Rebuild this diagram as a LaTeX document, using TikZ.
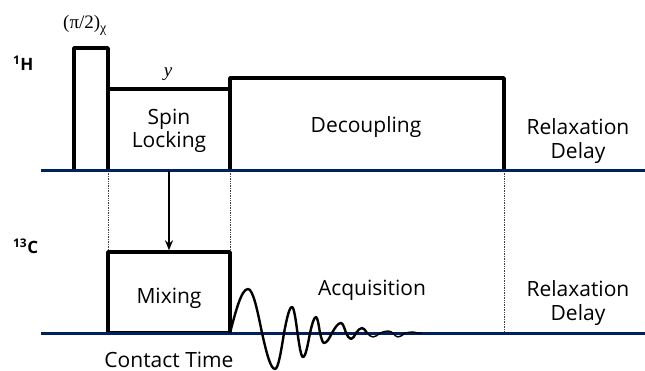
\documentclass[tikz,border=0pt]{standalone}
\usepackage{fontspec}
\setmainfont{Open Sans}
\newfontfamily\seriffont{Liberation Serif}
\definecolor{axisblue}{RGB}{0, 32, 96}
\usetikzlibrary{arrows.meta, positioning}

\begin{document}
\begin{tikzpicture}[x=1pt, y=-1pt,
  txt/.style={font=\fontsize{21}{23.5}\selectfont, align=center},
  chan/.style={font=\fontsize{17}{20}\selectfont\bfseries, anchor=base west, inner sep=0pt},
  axisline/.style={axisblue, line width=3pt},
  pulse/.style={line width=3.4pt, line join=round},
  guide/.style={densely dotted, line width=0.7pt, black!75}]
  \useasboundingbox (0,0) rectangle (645,371);

  % Guides
  \draw[guide] (108,171) -- (108,252);
  \draw[guide] (230,171) -- (230,252);
  \draw[guide] (504,171) -- (504,333);

  % 1H pulses
  \draw[pulse] (74,171) -- (74,48) -- (108,48) -- (108,171);
  \draw[pulse] (108,89) -- (230,89);
  \draw[pulse] (230,171) -- (230,78) -- (504,78) -- (504,171);

  % 13C contact block
  \node[pulse, draw, minimum width=122pt, minimum height=81pt, inner sep=0pt] (mixing) at (169,292.5) {};

  % Baselines
  \draw[axisline] (41,171) -- (645,171);
  \draw[axisline] (41,333) -- (645,333);

  % Transfer arrow
  \coordinate (lockfoot) at (169,171);
  \draw[-{Stealth[length=10pt, width=8pt]}, line width=2pt] (lockfoot) -- (mixing.north);

  % FID
  \draw[line width=2.4pt, line join=round] (230,333) sin (248,289) cos (262,333) sin (275,369)
    cos (284,333) sin (292,307) cos (297.5,333) sin (303,357) cos (310,333) sin (316,317)
    cos (320,333) sin (324,343) cos (332,333) sin (341,323) cos (346,333) sin (351,339)
    cos (356,333) sin (362,328) cos (367,333);
  \draw[line width=1.4pt, line join=round] (367,333) sin (373,337) cos (380,333) sin (388,331)
    cos (393,333) sin (398,337) cos (405,333) sin (413,332) cos (418,333) -- (422,333);

  % Labels
  \node[chan] (hlabel) at (13,71) {\textsuperscript{1}H};
  \node[chan] (clabel) at (13,254) {\textsuperscript{13}C};
  \node[anchor=base west, inner sep=0pt, font=\seriffont\fontsize{19}{19}\selectfont] (flip) at (63,29)
    {(π/2)\raisebox{-4pt}{\fontsize{14}{14}\selectfont χ}};
  \node[anchor=base, inner sep=0pt, font=\seriffont\itshape\fontsize{19}{19}\selectfont] (phase) at (168,77) {y};
  \node[txt] (lock) at (169,131) {Spin\\Locking};
  \node[txt, anchor=base] (decoup) at (366,133) {Decoupling};
  \node[txt] (relaxh) at (578,141) {Relaxation\\Delay};
  \node[txt, anchor=base] (mixtext) at (169,303) {Mixing};
  \node[txt, anchor=base] (acq) at (372,296) {Acquisition};
  \node[txt] (relaxc) at (578,303) {Relaxation\\Delay};
  \node[txt, anchor=base, inner sep=0pt] (contact) at (169,367) {Contact Time};
\end{tikzpicture}
\end{document}
